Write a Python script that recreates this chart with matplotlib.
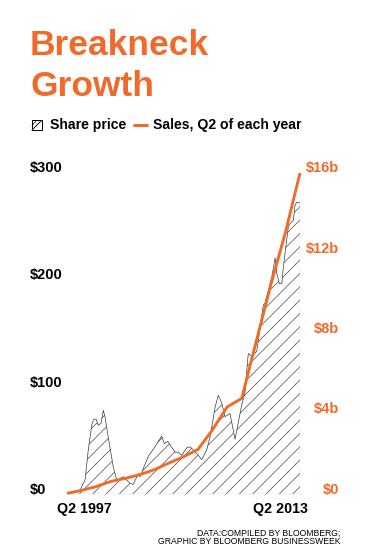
import matplotlib
matplotlib.use("Agg")
import matplotlib.pyplot as plt
from matplotlib.lines import Line2D
from matplotlib.patches import Rectangle
from matplotlib.transforms import blended_transform_factory

# share price, $
price_years = [1997.0, 1997.45, 1997.89, 1998.24, 1998.46, 1998.70, 1998.81, 1998.99,
               1999.15, 1999.34, 1999.49, 1999.61, 1999.84, 2000.18, 2000.41, 2000.87,
               2001.33, 2001.55, 2001.90, 2002.01, 2002.58, 2003.04, 2003.50, 2003.68,
               2003.92, 2004.07, 2004.42, 2004.64, 2004.88, 2005.22, 2005.45, 2005.67,
               2006.02, 2006.25, 2006.59, 2006.82, 2007.17, 2007.39, 2007.62, 2007.85,
               2008.19, 2008.54, 2009.00, 2009.22, 2009.34, 2009.45, 2009.69, 2010.03,
               2010.48, 2010.60, 2011.06, 2011.29, 2011.40, 2011.58, 2011.75, 2011.86,
               2012.20, 2012.32, 2012.54, 2012.66, 2012.78, 2013.0]
price_values = [0, 1.5, 3.7, 13, 41, 64, 69, 70,
                64, 66, 78, 72, 52, 25, 13, 16,
                10, 9, 19, 16, 35, 44, 54, 47,
                49, 46, 39, 39, 36, 43, 44, 41,
                36, 32, 41, 53, 81, 92, 85, 72,
                75, 51, 83, 94, 115, 131, 128, 133,
                176, 178, 202, 220, 206, 196, 196, 212,
                249, 252, 255, 269, 272, 271]

# sales, Q2 of each year, $b
sales_years = list(range(1997, 2014))
sales_values = [0.03, 0.18, 0.37, 0.62, 0.78, 0.96, 1.21, 1.54, 1.85,
                2.22, 3.2, 4.33, 4.75, 7.6, 10.4, 13.0, 15.95]

left_ticks = [0, 100, 200, 300]
left_labels = ["$0", "$100", "$200", "$300"]
right_ticks = [0, 4, 8, 12, 16]
right_labels = ["$0", "$4b", "$8b", "$12b", "$16b"]

ORANGE = "#F06A2A"
W, H = 368, 551
DPI = 80

plt.rcParams["font.family"] = ["Liberation Sans", "DejaVu Sans"]
plt.rcParams["hatch.linewidth"] = 0.6


def fx(x):
    return x / W


def fy(y):
    return 1 - y / H


fig = plt.figure(figsize=(W / DPI, H / DPI), dpi=DPI)
fig.patch.set_facecolor("white")

ax = fig.add_axes([fx(67), fy(494), 233 / W, 322 / H])
ax.set_xlim(1997, 2013)
ax.set_ylim(0, 300)
ax.axis("off")
ax2 = fig.add_axes([fx(67), fy(494), 233 / W, 322 / H])
ax2.set_xlim(1997, 2013)
ax2.set_ylim(0, 16)
ax2.axis("off")

# share price area
ax.fill_between(price_years, price_values, 0, facecolor="white",
                edgecolor="#444444", hatch="//", linewidth=0)
ax.plot(price_years, price_values, color="#333333", lw=0.6)
ax.plot([price_years[-1]] * 2, [0, price_values[-1]], color="#aaaaaa", lw=1.1)
ax.plot([price_years[0], price_years[-1]], [0, 0], color="#aaaaaa", lw=1.1)

# sales line
ax2.plot(sales_years, sales_values, color=ORANGE, lw=2.6,
         solid_capstyle="butt", solid_joinstyle="round", clip_on=False, zorder=5)

# tick labels
tl = blended_transform_factory(fig.transFigure, ax.transData)
for v, s in zip(left_ticks, left_labels):
    ax.text(fx(30), v, s, transform=tl, ha="left", va="baseline",
            fontsize=13.2, fontweight="bold", color="black")
tr = blended_transform_factory(fig.transFigure, ax2.transData)
for v, s in zip(right_ticks, right_labels):
    ax2.text(fx(339), v, s, transform=tr, ha="right", va="baseline",
             fontsize=13.2, fontweight="bold", color=ORANGE)

fig.text(fx(57), fy(513.5), "Q2 1997", ha="left", va="baseline",
         fontsize=12.8, fontweight="bold")
fig.text(fx(308), fy(513.5), "Q2 2013", ha="right", va="baseline",
         fontsize=12.8, fontweight="bold")

# title
fig.text(fx(30), fy(55), "Breakneck", ha="left", va="baseline",
         fontsize=31.8, fontweight="bold", color=ORANGE)
fig.text(fx(30), fy(96), "Growth", ha="left", va="baseline",
         fontsize=31.8, fontweight="bold", color=ORANGE)

# legend
fig.patches.append(Rectangle((fx(32), fy(130)), 9.5 / W, 9.5 / H,
                             transform=fig.transFigure, facecolor="white",
                             edgecolor="black", lw=0.9))
fig.lines.append(Line2D([fx(32), fx(41.5)], [fy(130), fy(120.5)],
                        transform=fig.transFigure, color="black", lw=0.8))
fig.lines.append(Line2D([fx(32), fx(36.5)], [fy(125.5), fy(120.5)],
                        transform=fig.transFigure, color="black", lw=0.6))
fig.text(fx(50), fy(129.5), "Share price", ha="left", va="baseline",
         fontsize=12.6, fontweight="bold")
fig.lines.append(Line2D([fx(133), fx(148)], [fy(125), fy(125)],
                        transform=fig.transFigure, color=ORANGE, lw=2.7,
                        solid_capstyle="butt"))
fig.text(fx(153), fy(129.5), "Sales, Q2 of each year", ha="left", va="baseline",
         fontsize=12.6, fontweight="bold")

# source
fig.text(fx(340), fy(535.5), "DATA:COMPILED BY BLOOMBERG;", ha="right",
         va="baseline", fontsize=7.8)
fig.text(fx(340), fy(544.5), "GRAPHIC BY BLOOMBERG BUSINESSWEEK", ha="right",
         va="baseline", fontsize=7.8)

fig.savefig("out.png", dpi=DPI, facecolor="white")
